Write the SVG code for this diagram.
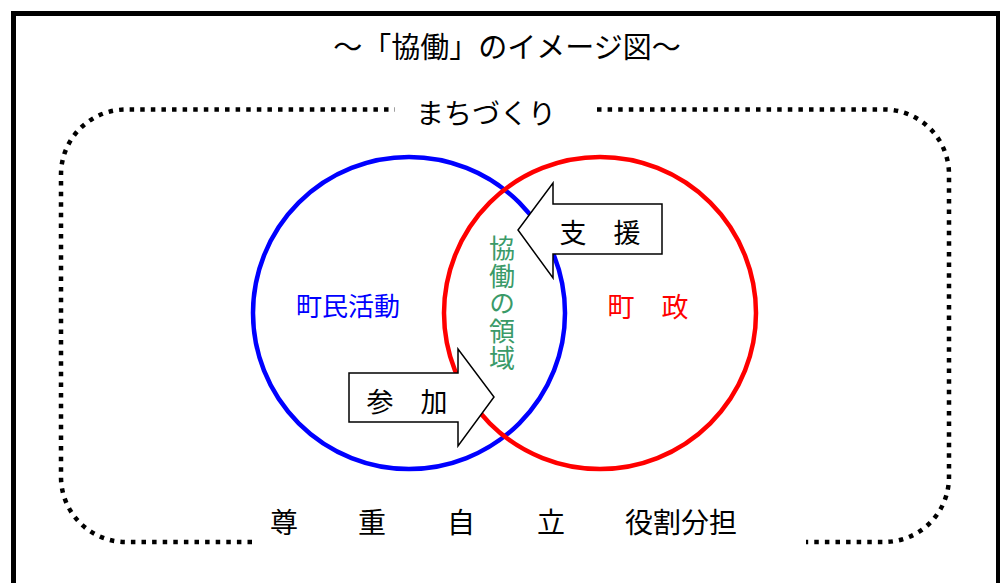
<svg xmlns="http://www.w3.org/2000/svg" width="1000" height="583" viewBox="0 0 1000 583">
<style>
text{font-family:"Noto Sans CJK JP","Noto Sans",sans-serif;dominant-baseline:central;text-anchor:middle}
.k{fill:#000}
.dot{fill:none;stroke:#000;stroke-width:4.5;stroke-dasharray:4.5 6.1}
.circ{fill:none;stroke-width:4.5}
.arrow{fill:#fff;stroke:#000;stroke-width:1.5;stroke-linejoin:miter}
</style>
<rect x="0" y="0" width="1000" height="583" fill="#fff"/>
<rect id="frame" x="13.5" y="13.5" width="985" height="600" fill="none" stroke="#000" stroke-width="5"/>
<g id="title"><text class="k" x="507" y="45" font-size="29">～「協働」のイメージ図～</text></g>
<g id="boundary">
<path class="dot" d="M597,109.5 H884 A65,65 0 0 1 949,174.5 V477 A65,65 0 0 1 884,542 H806"/>
<path class="dot" d="M252,542 H126 A65,65 0 0 1 61,477 V174.5 A65,65 0 0 1 126,109.5 H395"/>
<text class="k" x="486" y="112" font-size="28">まちづくり</text>
</g>
<g id="citizen">
<circle class="circ" cx="409" cy="313" r="156" stroke="#0000ff"/>
<text x="348" y="304" font-size="26" fill="#0000ff">町民活動</text>
</g>
<g id="town">
<circle class="circ" cx="600" cy="313" r="156" stroke="#ff0000"/>
<text x="648" y="305" font-size="27" fill="#ff0000">町　政</text>
</g>
<g id="kyodo">
<text x="502" y="304" font-size="26" fill="#3a9a68" style="writing-mode:vertical-rl;letter-spacing:1.5px">協働の領域</text>
</g>
<g id="connectors">
<g id="shien">
<polygon class="arrow" points="662,204 553,204 553,183 518,230 553,278 553,254 662,254"/>
<text class="k" x="600" y="231" font-size="27">支　援</text>
</g>
<g id="sanka">
<polygon class="arrow" points="349,373 458,373 458,349 494,397 458,446 458,422 349,422"/>
<text class="k" x="407" y="400" font-size="27">参　加</text>
</g>
</g>
<g id="values" class="k" font-size="28">
<text x="284" y="521">尊</text>
<text x="372" y="521">重</text>
<text x="461" y="521">自</text>
<text x="551" y="521">立</text>
<text x="681" y="521">役割分担</text>
</g>
</svg>
